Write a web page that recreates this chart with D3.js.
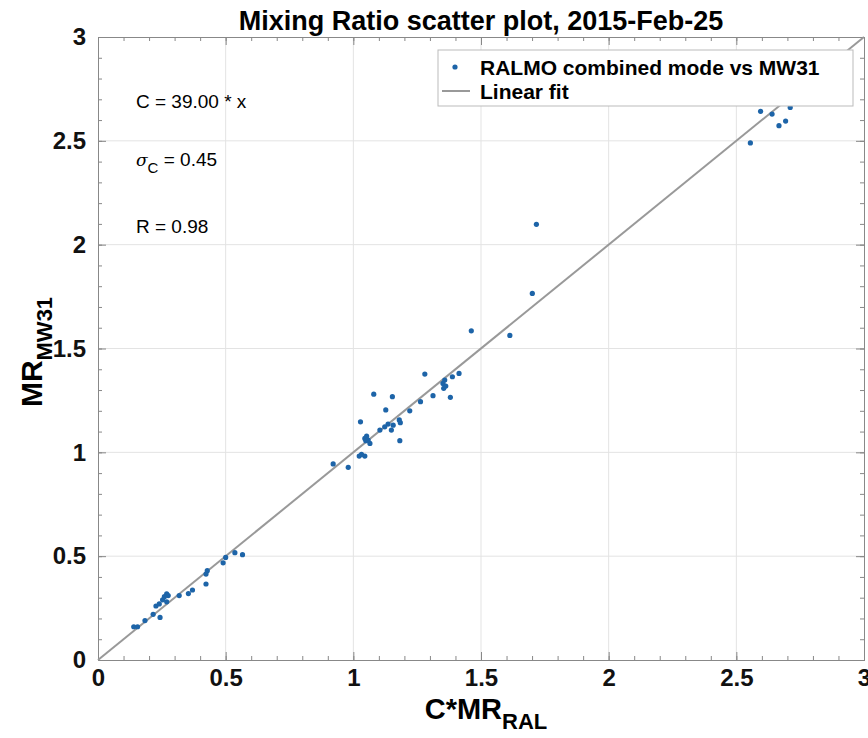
<!DOCTYPE html>
<html>
<head>
<meta charset="utf-8">
<script src="https://cdn.jsdelivr.net/npm/d3@7"></script>
<style>
  body { margin: 0; background: #fff; }
  svg { font-family: "Liberation Sans", Arial, sans-serif; }
</style>
</head>
<body>
<div id="chart"></div>
<script>
const width = 868;
const height = 738;

// C*MR_RAL (x) vs MR_MW31 (y)
const xVals = [0.14, 0.155, 0.184, 0.216, 0.243, 0.227, 0.24, 0.253, 0.26, 0.269, 0.275, 0.269,
  0.318, 0.354, 0.37, 0.423, 0.428, 0.423, 0.49, 0.50, 0.536, 0.566,
  0.921, 0.98, 1.023, 1.032, 1.045, 1.028, 1.045, 1.052, 1.049, 1.058, 1.065, 1.08,
  1.104, 1.123, 1.127, 1.136, 1.149, 1.153, 1.156, 1.18, 1.184, 1.182, 1.221, 1.263, 1.28,
  1.312, 1.351, 1.358, 1.362, 1.354, 1.38, 1.388, 1.414, 1.462, 1.613, 1.717, 1.701,
  2.555, 2.595, 2.64, 2.667, 2.693, 2.711];
const yVals = [0.16, 0.16, 0.19, 0.22, 0.205, 0.26, 0.27, 0.29, 0.305, 0.318, 0.31, 0.28,
  0.31, 0.32, 0.337, 0.366, 0.43, 0.414, 0.468, 0.494, 0.517, 0.507,
  0.944, 0.928, 0.982, 0.99, 0.982, 1.147, 1.067, 1.078, 1.056, 1.059, 1.043, 1.28,
  1.107, 1.123, 1.204, 1.136, 1.107, 1.268, 1.131, 1.156, 1.143, 1.056, 1.2, 1.244, 1.377,
  1.273, 1.332, 1.348, 1.319, 1.308, 1.265, 1.364, 1.38, 1.585, 1.563, 2.098, 1.765,
  2.49, 2.642, 2.629, 2.573, 2.595, 2.661];
const fitSlope = 1.0;
const majorTicks = [0, 0.5, 1, 1.5, 2, 2.5, 3];
const tickLabels = ["0", "0.5", "1", "1.5", "2", "2.5", "3"];
const legendLabels = ["RALMO combined mode vs MW31", "Linear fit"];
const statsText = ["C = 39.00 * x", "0.45", "R = 0.98"];

const margin = {left: 98, right: 4, top: 37, bottom: 78};
const dotColor = "#1d64a8";

const x = d3.scaleLinear().domain([0, 3]).range([margin.left, width - margin.right]);
const y = d3.scaleLinear().domain([0, 3]).range([height - margin.bottom, margin.top]);

const svg = d3.select("#chart").append("svg")
  .attr("width", width)
  .attr("height", height);

const x0 = x(0), x1 = x(3), y0 = y(0), y1 = y(3);

// grid
const grid = svg.append("g").attr("stroke", "#e3e3e3").attr("stroke-width", 1);
grid.selectAll(".gx").data(majorTicks.slice(1, -1)).enter().append("line")
  .attr("x1", d => x(d)).attr("x2", d => x(d)).attr("y1", y0).attr("y2", y1);
grid.selectAll(".gy").data(majorTicks.slice(1, -1)).enter().append("line")
  .attr("y1", d => y(d)).attr("y2", d => y(d)).attr("x1", x0).attr("x2", x1);

// axes (ticks inward, on all four sides)
const minor = d3.range(0, 3.0001, 0.1).map(v => +v.toFixed(1));
const tickFmt = (d) => tickLabels[majorTicks.indexOf(d)];

function boxAxis(axisFn, scale, tx, ty, pad) {
  const g = svg.append("g").attr("transform", `translate(${tx},${ty})`);
  g.call(axisFn(scale).tickValues(minor).tickSize(-4).tickFormat(""));
  const gm = svg.append("g").attr("transform", `translate(${tx},${ty})`);
  gm.call(axisFn(scale).tickValues(majorTicks).tickSize(-8).tickPadding(pad || 0)
    .tickFormat(pad ? tickFmt : ""));
  [g, gm].forEach(s => {
    s.select(".domain").attr("stroke", "#888");
    s.selectAll(".tick line").attr("stroke", "#888");
  });
  gm.selectAll(".tick text")
    .attr("font-size", 24).attr("font-weight", "bold").attr("fill", "#111")
    .attr("font-family", "Liberation Sans, Arial, sans-serif");
  return gm;
}
boxAxis(d3.axisBottom, x, 0, y0, 9);
boxAxis(d3.axisTop, x, 0, y1, 0);
boxAxis(d3.axisLeft, y, x0, 0, 12);
boxAxis(d3.axisRight, y, x1, 0, 0);

// linear fit
svg.append("line")
  .attr("x1", x(0)).attr("y1", y(0))
  .attr("x2", x(3 / fitSlope)).attr("y2", y(3))
  .attr("stroke", "#999").attr("stroke-width", 2);

// points
svg.append("g").selectAll("circle")
  .data(xVals.map((v, i) => [v, yVals[i]]))
  .enter().append("circle")
  .attr("cx", d => x(d[0]))
  .attr("cy", d => y(d[1]))
  .attr("r", 2.6)
  .attr("fill", dotColor);

// title
svg.append("text")
  .attr("x", (x0 + x1) / 2).attr("y", 30)
  .attr("text-anchor", "middle")
  .attr("font-size", 27).attr("font-weight", "bold")
  .text("Mixing Ratio scatter plot, 2015-Feb-25");

// x label
const xl = svg.append("text")
  .attr("x", 486).attr("y", 719)
  .attr("text-anchor", "middle")
  .attr("font-size", 29).attr("font-weight", "bold");
xl.append("tspan").text("C*MR");
xl.append("tspan").attr("font-size", 22).attr("dy", 10).text("RAL");

// y label
const yl = svg.append("text")
  .attr("transform", "translate(42,352) rotate(-90)")
  .attr("text-anchor", "middle")
  .attr("font-size", 30).attr("font-weight", "bold");
yl.append("tspan").text("MR");
yl.append("tspan").attr("font-size", 22).attr("dy", 10).text("MW31");

// stats text
svg.append("text").attr("x", 136).attr("y", 108).attr("font-size", 19).text(statsText[0]);
const sg = svg.append("text").attr("x", 136).attr("y", 166).attr("font-size", 19);
sg.append("tspan").attr("font-style", "italic").attr("font-family", "DejaVu Serif, serif").attr("font-size", 17).text("σ");
sg.append("tspan").attr("font-size", 15).attr("dy", 7).text("C");
sg.append("tspan").attr("dy", -7).text(" = " + statsText[1]);
svg.append("text").attr("x", 136).attr("y", 233).attr("font-size", 19).text(statsText[2]);

// legend
const leg = svg.append("g");
leg.append("rect")
  .attr("x", 438).attr("y", 50).attr("width", 415).attr("height", 56)
  .attr("fill", "#fff").attr("stroke", "#bbb").attr("stroke-width", 1);
leg.append("circle").attr("cx", 455).attr("cy", 67).attr("r", 2.6).attr("fill", dotColor);
leg.append("line").attr("x1", 442).attr("x2", 470).attr("y1", 91).attr("y2", 91)
  .attr("stroke", "#999").attr("stroke-width", 2);
leg.selectAll("text").data(legendLabels).enter().append("text")
  .attr("x", 480).attr("y", (d, i) => 75 + i * 24)
  .attr("font-size", 21).attr("font-weight", "bold")
  .text(d => d);
</script>
</body>
</html>
